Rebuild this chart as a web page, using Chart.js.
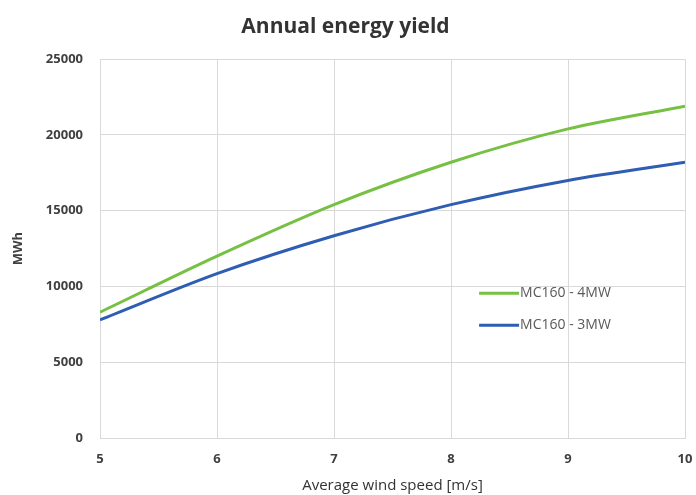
<!DOCTYPE html>
<html>
<head>
<meta charset="utf-8">
<script src="https://cdn.jsdelivr.net/npm/chart.js@4.4.1/dist/chart.umd.min.js"></script>
<style>
  html, body { margin: 0; padding: 0; background: #fff; }
  #wrap { width: 696px; height: 495px; }
</style>
</head>
<body>
<div id="wrap"><canvas id="yieldChart"></canvas></div>
<script>
// vitesses de vent (m/s) et production annuelle (MWh)
const windSpeeds = [5, 6, 7, 8, 9, 10];
const yield4MW = [8300, 12000, 15400, 18200, 20400, 21900];
const yield3MW = [7800, 10850, 13350, 15400, 17000, 18200];
const seriesLabels = ['MC160 - 4MW', 'MC160 - 3MW'];
const seriesColors = ['#76c043', '#2e5db3'];

const txtColor = '#404040';
const gridColor = '#d9d9d9';
const fontFam = '"Open Sans", sans-serif';

// légende dessinée dans la zone du graphique
const insideLegend = {
    id: 'insideLegend',
    afterDraw(chart) {
        const ctx = chart.ctx;
        const area = chart.chartArea;
        const x0 = area.left + (area.right - area.left) * 0.648;
        const y0 = area.top + (area.bottom - area.top) * 0.618;
        ctx.save();
        ctx.font = '14px ' + fontFam;
        ctx.textBaseline = 'middle';
        chart.data.datasets.forEach((ds, i) => {
            const y = y0 + i * 32;
            ctx.strokeStyle = ds.borderColor;
            ctx.lineWidth = 3;
            ctx.beginPath();
            ctx.moveTo(x0, y);
            ctx.lineTo(x0 + 40, y);
            ctx.stroke();
            ctx.fillStyle = '#595959';
            ctx.fillText(ds.label, x0 + 41, y);
        });
        ctx.restore();
    }
};

const ctx = document.getElementById('yieldChart').getContext('2d');
new Chart(ctx, {
    type: 'line',
    data: {
        datasets: [
            {
                label: seriesLabels[0],
                data: windSpeeds.map((w, i) => ({ x: w, y: yield4MW[i] })),
                borderColor: seriesColors[0],
                borderWidth: 3,
                pointRadius: 0,
                tension: 0.3,
                fill: false
            },
            {
                label: seriesLabels[1],
                data: windSpeeds.map((w, i) => ({ x: w, y: yield3MW[i] })),
                borderColor: seriesColors[1],
                borderWidth: 3,
                pointRadius: 0,
                tension: 0.3,
                fill: false
            }
        ]
    },
    options: {
        responsive: true,
        maintainAspectRatio: false,
        animation: false,
        layout: { padding: { left: 6, right: 11, top: 8, bottom: 0 } },
        scales: {
            x: {
                type: 'linear',
                min: 5, max: 10,
                ticks: { stepSize: 1, color: txtColor, font: { family: fontFam, size: 13, weight: 'bold' }, padding: 13 },
                grid: { color: gridColor, drawTicks: false },
                border: { color: gridColor },
                title: { display: true, text: 'Average wind speed [m/s]', color: '#333', font: { family: fontFam, size: 15 }, padding: { top: 1, bottom: 0 } },
                afterFit: s => { s.height = 57; s.paddingRight = 0; }
            },
            y: {
                min: 0, max: 25000,
                ticks: { stepSize: 5000, color: txtColor, font: { family: fontFam, size: 13, weight: 'bold' }, padding: 17, callback: v => String(v) },
                grid: { color: gridColor, drawTicks: false },
                border: { color: gridColor },
                title: { display: true, text: 'MWh', color: txtColor, font: { family: fontFam, size: 13, weight: 'bold' }, padding: { bottom: 18 } },
                afterFit: s => { s.width = 94; }
            }
        },
        plugins: {
            legend: { display: false },
            title: {
                display: true,
                text: 'Annual energy yield',
                color: '#333',
                font: { family: fontFam, size: 21, weight: 'bold' },
                padding: { top: 6, bottom: 20 }
            },
            tooltip: { enabled: false }
        }
    },
    plugins: [insideLegend]
});
</script>
</body>
</html>
